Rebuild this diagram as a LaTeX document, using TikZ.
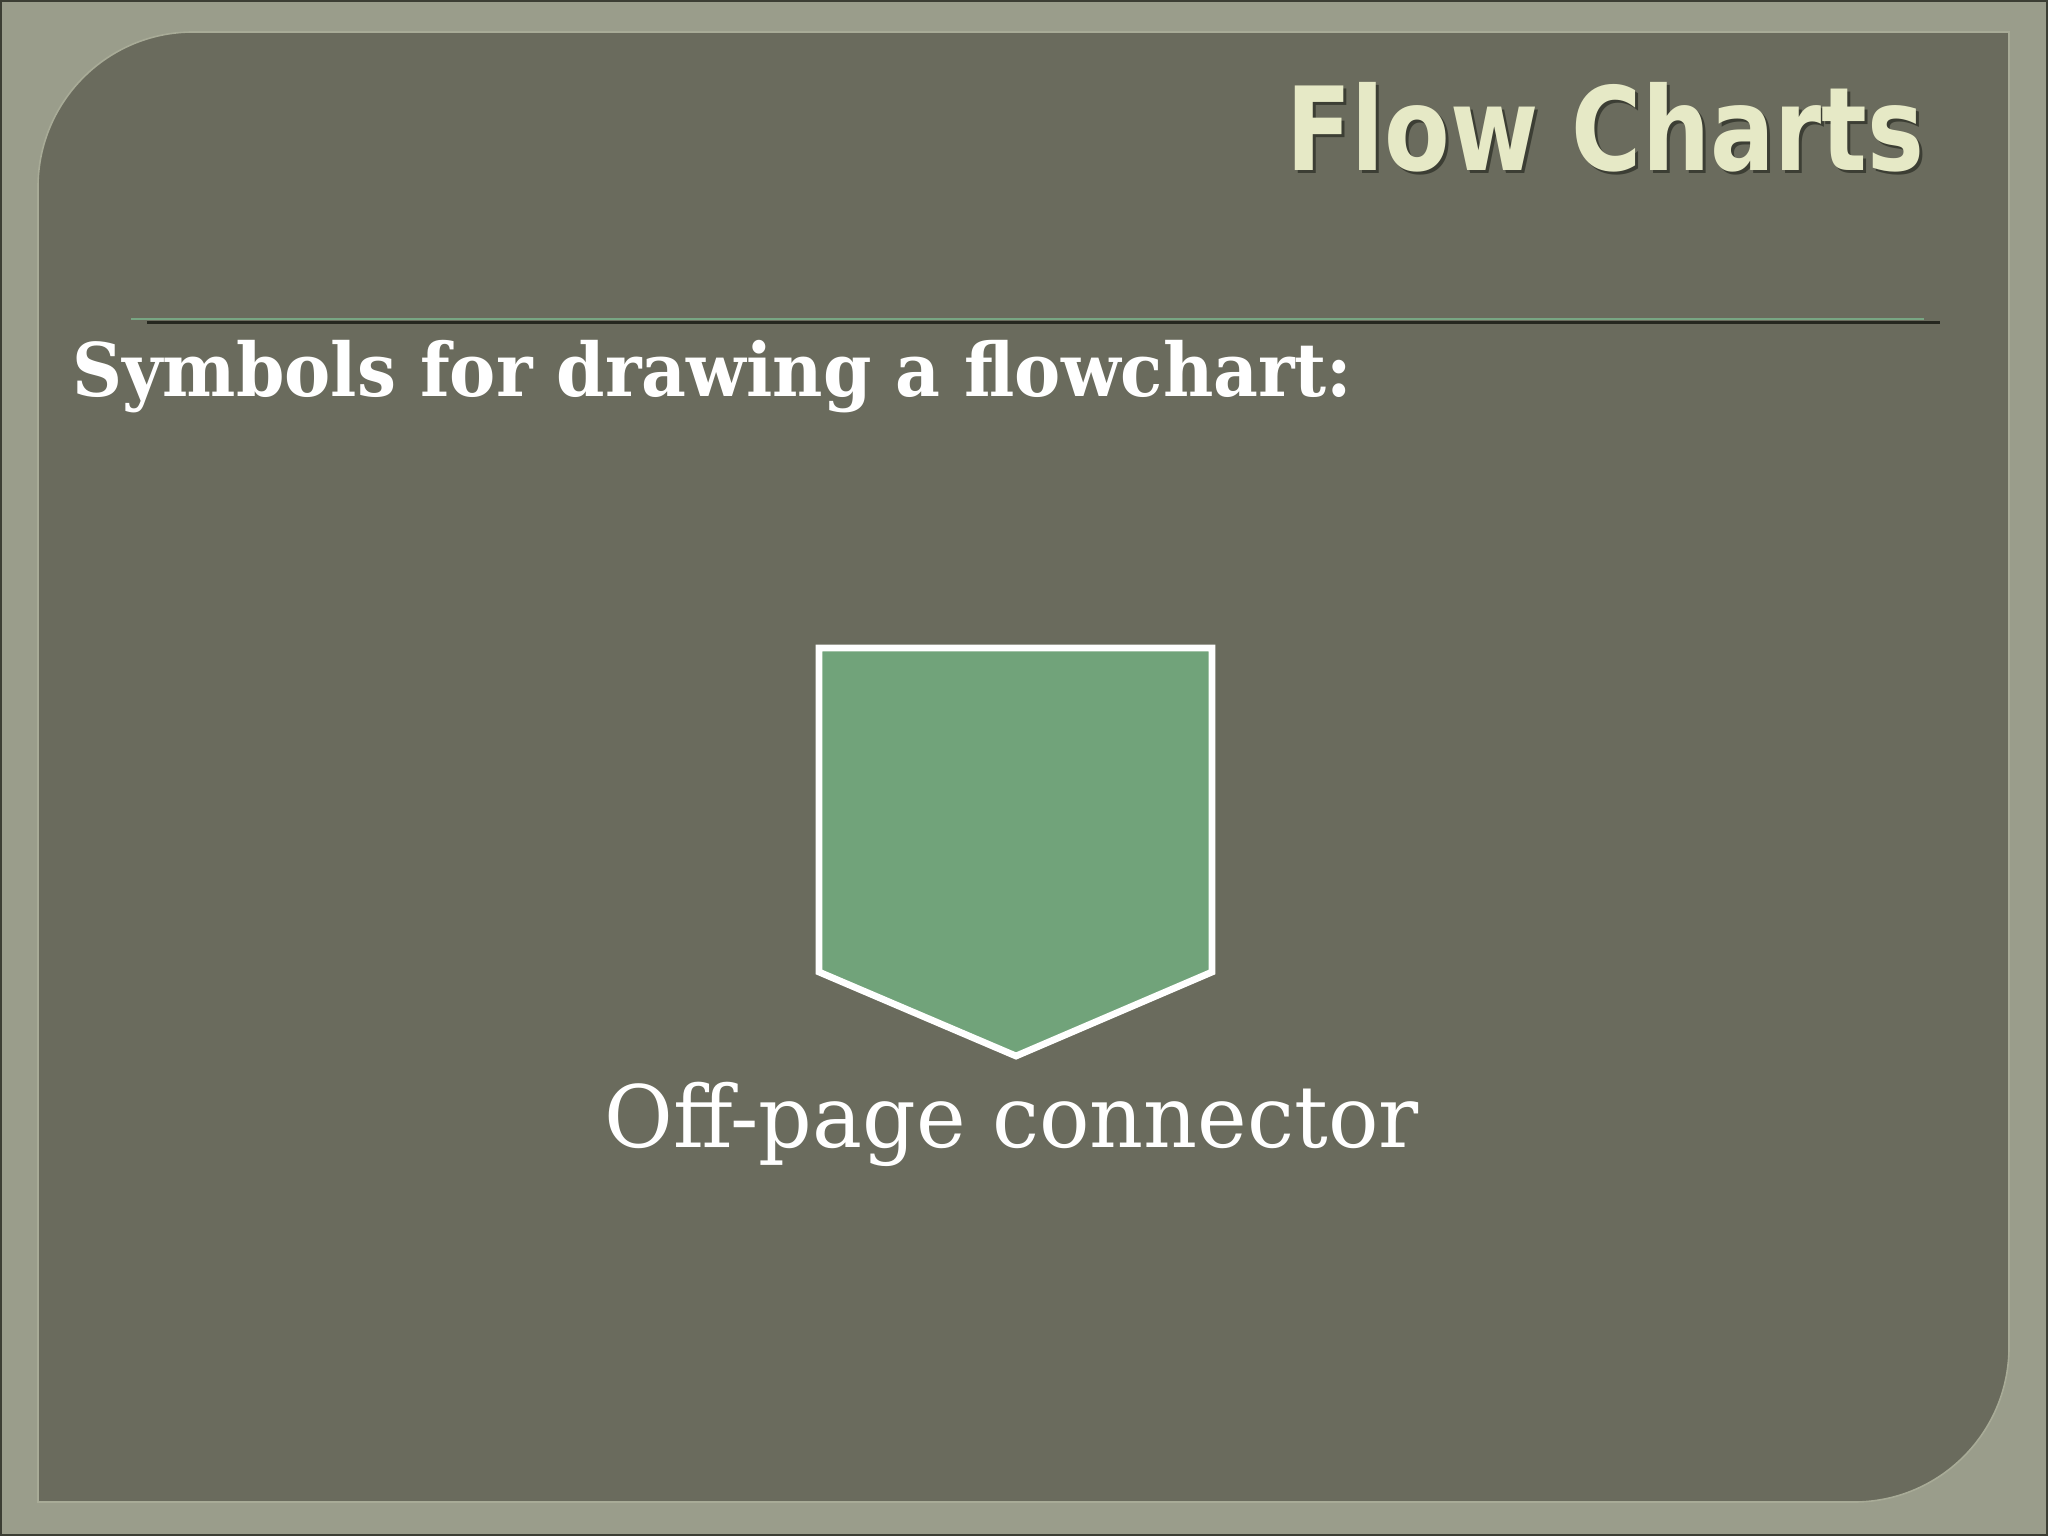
\documentclass[tikz,border=0pt]{standalone}
\usepackage{fontspec}
\usepackage{graphicx}
\newfontfamily\titlefont{DejaVu Sans}
\newfontfamily\slabfont{DejaVu Serif}
\definecolor{framecol}{HTML}{9A9D8B}
\definecolor{panelcol}{HTML}{6A6B5D}
\definecolor{paneledge}{HTML}{A8AB97}
\definecolor{titlecol}{HTML}{E6E9C6}
\definecolor{shadowcol}{HTML}{3C3E34}
\definecolor{rulegreen}{HTML}{78A683}
\definecolor{ruledark}{HTML}{25271F}
\definecolor{shapegreen}{HTML}{71A37A}
\tikzset{
  titletext/.style={inner sep=0pt, anchor=base west, font=\titlefont\bfseries\fontsize{58}{60}\selectfont},
  headtext/.style={inner sep=0pt, anchor=base west, text=white, font=\slabfont\bfseries\fontsize{37}{40}\selectfont},
  labeltext/.style={inner sep=0pt, anchor=base, text=white, font=\slabfont\fontsize{43}{46}\selectfont},
  connshape/.style={fill=shapegreen, draw=white, line width=3.4pt, line join=miter},
  panelpath/.style={rounded corners=77.5pt}
}
\begin{document}
\begin{tikzpicture}[x=0.5pt,y=-0.5pt]
\useasboundingbox (0,0) rectangle (2048,1536);
% outer frame
\fill[framecol] (0,0) rectangle (2048,1536);
\draw[shadowcol, line width=1.2pt] (1,1) rectangle (2047,1535);
% panel
\def\panelshape{(38,1502) -- (38,760) [panelpath] -- (38,32) -- (1000,32) [sharp corners] -- (2009,32) -- (2009,760) [panelpath] -- (2009,1502) -- (1000,1502) [sharp corners] -- cycle}
\fill[panelcol] \panelshape;
\draw[paneledge, line width=0.8pt] \panelshape;
% title
\node[titletext, text=shadowcol] (titleshadow) at (1289,173) {\resizebox{319pt}{\height}{Flow Charts}};
\node[titletext, text=titlecol] (title) at (1286,170) {\resizebox{319pt}{\height}{Flow Charts}};
% rule
\coordinate (ruleAstart) at (131,319);
\coordinate (ruleAend) at (1924,319);
\coordinate (ruleBstart) at (147,322.5);
\coordinate (ruleBend) at (1940,322.5);
\draw[ruledark, line width=1.3pt] (ruleBstart) -- (ruleBend);
\draw[rulegreen, line width=1.3pt] (ruleAstart) -- (ruleAend);
% heading
\node[headtext] (heading) at (72,396) {\resizebox{640pt}{\height}{Symbols for drawing a flowchart:}};
% off-page connector
\draw[connshape] (819,648) -- (1212,648) -- (1212,972) -- (1016,1056) -- (819,972) -- cycle;
\node[labeltext] (label) at (1012,1147) {\resizebox{407pt}{\height}{Off-page connector}};
\end{tikzpicture}
\end{document}
